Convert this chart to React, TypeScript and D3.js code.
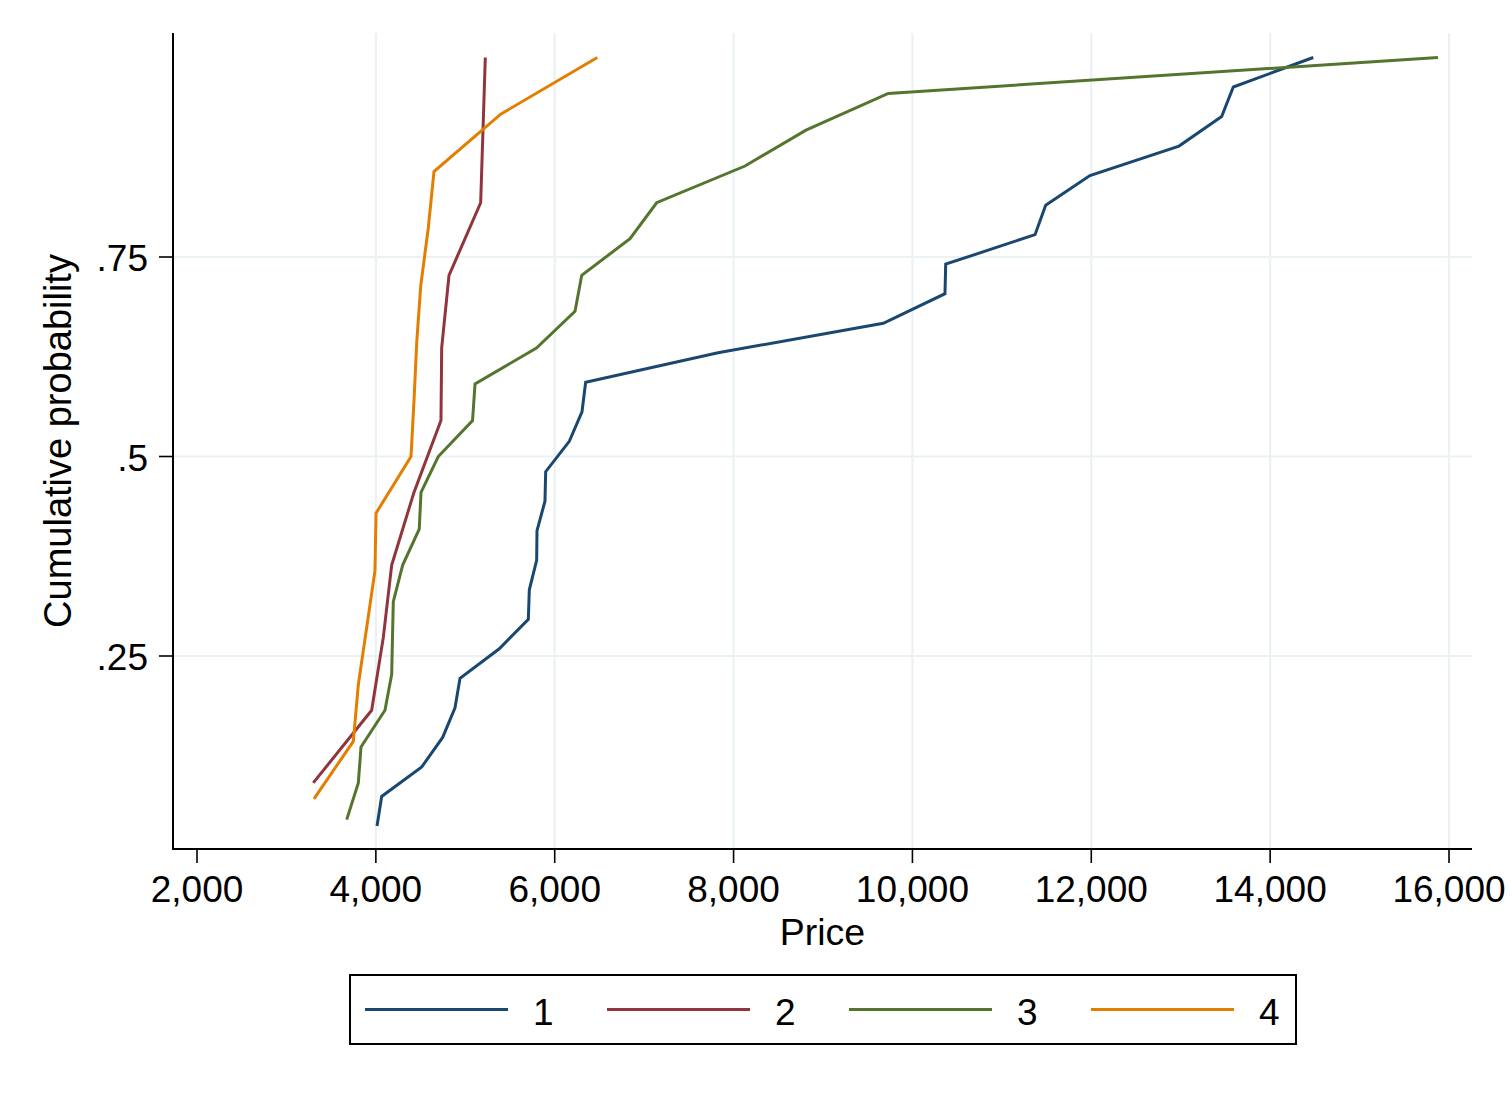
import React from "react";
import * as d3 from "d3";

const groups = ["1", "2", "3", "4"];
const colors = ["#1a476f", "#90353b", "#55752f", "#e37e00"];

const price1 = [4013, 4065, 4513, 4747, 4885, 4941, 5380, 5705, 5716, 5798, 5802, 5891, 5899, 6163, 6305, 6346, 7826, 9674, 10364, 10372, 11371, 11490, 11985, 12981, 13458, 13588, 14482];
const cum1 = [0.037, 0.074, 0.111, 0.148, 0.185, 0.222, 0.259, 0.296, 0.333, 0.37, 0.407, 0.444, 0.481, 0.519, 0.556, 0.593, 0.63, 0.667, 0.704, 0.741, 0.778, 0.815, 0.852, 0.889, 0.926, 0.963, 1];

const price2 = [3300, 3953, 4083, 4177, 4426, 4728, 4736, 4818, 5172, 5224];
const cum2 = [0.091, 0.182, 0.273, 0.364, 0.455, 0.545, 0.636, 0.727, 0.818, 1];

const price3 = [3674, 3804, 3834, 4102, 4177, 4186, 4195, 4300, 4485, 4505, 4698, 5081, 5109, 5796, 6227, 6302, 6842, 7140, 8128, 8810, 9730, 15877];
const cum3 = [0.045, 0.091, 0.136, 0.182, 0.227, 0.273, 0.318, 0.364, 0.409, 0.455, 0.5, 0.545, 0.591, 0.636, 0.682, 0.727, 0.773, 0.818, 0.864, 0.909, 0.955, 1];

const price4 = [3308, 3748, 3804, 3898, 3990, 4002, 4393, 4427, 4457, 4502, 4586, 4650, 5396, 6476];
const cum4 = [0.071, 0.143, 0.214, 0.286, 0.357, 0.429, 0.5, 0.571, 0.643, 0.714, 0.786, 0.857, 0.929, 1];

const xTicks = [2000, 4000, 6000, 8000, 10000, 12000, 14000, 16000];
const xGrid = [4000, 6000, 8000, 10000, 12000, 14000, 16000];
const yTicks = [0.25, 0.5, 0.75];
const yTickLabels = [".25", ".5", ".75"];

const prices = [price1, price2, price3, price4];
const cums = [cum1, cum2, cum3, cum4];

const FONT = "'Liberation Sans', Arial, Helvetica, sans-serif";

export default function App() {
  const W = 1512, H = 1094;
  const left = 173, right = 1472, top = 33, bottom = 849;
  const x = d3.scaleLinear().domain([2000, 16000]).range([197, 1449]);
  const y = d3.scaleLinear().domain([0, 1]).range([855.5, 57.5]);
  const fmt = d3.format(",");

  const series = groups.map((g, i) =>
    prices[i].map((p, j) => [p, cums[i][j]] as [number, number])
  );
  const line = d3
    .line<[number, number]>()
    .x((d) => x(d[0]))
    .y((d) => y(d[1]));

  const legY = 1009.5;
  const legStep = 242;

  return (
    <div style={{ position: "absolute", left: 0, top: 0 }}>
      <svg width={W} height={H} style={{ display: "block", background: "#fff" }} fontFamily={FONT}>
        <rect x={0} y={0} width={W} height={H} fill="#fff" />
        {/* grid */}
        {xGrid.map((t) => (
          <line key={"gx" + t} x1={x(t)} x2={x(t)} y1={top} y2={bottom} stroke="#eaf2f3" strokeWidth={2.2} />
        ))}
        {yTicks.map((t) => (
          <line key={"gy" + t} x1={left} x2={right} y1={y(t)} y2={y(t)} stroke="#eaf2f3" strokeWidth={2.2} />
        ))}
        {/* series */}
        {series.map((s, i) => (
          <path key={"s" + i} d={line(s) || ""} fill="none" stroke={colors[i]} strokeWidth={3} strokeLinejoin="miter" />
        ))}
        {/* axes */}
        <line x1={left} x2={left} y1={top} y2={bottom + 1} stroke="#000" strokeWidth={2} />
        <line x1={left - 1} x2={right} y1={bottom} y2={bottom} stroke="#000" strokeWidth={2} />
        {xTicks.map((t) => (
          <g key={"xt" + t}>
            <line x1={x(t)} x2={x(t)} y1={bottom} y2={bottom + 14} stroke="#000" strokeWidth={1.6} />
            <text x={x(t)} y={902} textAnchor="middle" fontSize={37} fill="#000">
              {fmt(t)}
            </text>
          </g>
        ))}
        {yTicks.map((t, i) => (
          <g key={"yt" + t}>
            <line x1={left - 14} x2={left} y1={y(t)} y2={y(t)} stroke="#000" strokeWidth={1.6} />
            <text x={148} y={y(t) + 14} textAnchor="end" fontSize={37} fill="#000">
              {yTickLabels[i]}
            </text>
          </g>
        ))}
        <text x={(left + right) / 2} y={945} textAnchor="middle" fontSize={37.5} fill="#000">
          Price
        </text>
        <text
          transform={`translate(71,${(top + bottom) / 2}) rotate(-90)`}
          textAnchor="middle"
          fontSize={38}
          fill="#000"
        >
          Cumulative probability
        </text>
        {/* legend */}
        <rect x={350} y={975} width={946} height={69} fill="#fff" stroke="#000" strokeWidth={2} />
        {groups.map((g, i) => (
          <g key={"lg" + g}>
            <line x1={365 + i * legStep} x2={508 + i * legStep} y1={legY} y2={legY} stroke={colors[i]} strokeWidth={3} />
            <text x={533 + i * legStep} y={1025} fontSize={37} fill="#000">
              {g}
            </text>
          </g>
        ))}
      </svg>
    </div>
  );
}
